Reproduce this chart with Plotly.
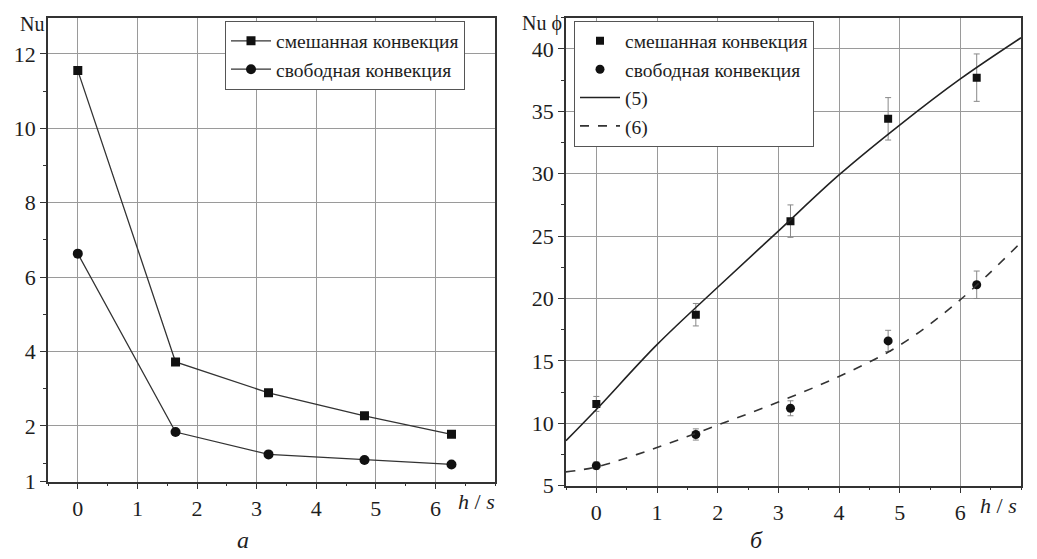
import plotly.graph_objects as go

# ---- data ----
hs = [0, 1.64, 3.2, 4.81, 6.27]
nu_mixed = [11.55, 3.72, 2.89, 2.27, 1.85]
nu_free = [6.63, 1.89, 1.49, 1.39, 1.31]

nuf_mixed = [11.55, 18.7, 26.2, 34.4, 37.7]
nuf_mixed_err = [0.6, 0.9, 1.3, 1.7, 1.9]
nuf_free = [6.6, 9.1, 11.2, 16.6, 21.1]
nuf_free_err = [0.3, 0.45, 0.6, 0.85, 1.1]

curve_x = [-0.5, 0, 1, 2, 3, 4, 5, 6, 7]
curve5 = [8.6, 11.1, 16.3, 20.9, 25.4, 29.9, 33.9, 37.6, 40.9]
curve6 = [6.1, 6.5, 8.05, 9.85, 11.7, 13.75, 16.25, 19.9, 24.5]

left_yticks = [1, 2, 4, 6, 8, 10, 12]
right_yticks = [5, 10, 15, 20, 25, 30, 35, 40]
xticks = [0, 1, 2, 3, 4, 5, 6]

label_mixed = "смешанная конвекция"
label_free = "свободная конвекция"


def warp(v):
    # the left axis is stretched by 1.5 below Nu = 2
    return v if v >= 2 else 2 - (2 - v) * 1.5


SERIF = "Liberation Serif, Times New Roman, serif"
INK = "#1e1e1e"
GRID = "#9a9a9a"

fig = go.Figure()

# left panel
fig.add_trace(go.Scatter(x=hs, y=[warp(v) for v in nu_mixed], mode="lines+markers",
                         name=label_mixed, legend="legend",
                         line=dict(color="#333", width=1.3),
                         marker=dict(symbol="square", size=9, color="#111"),
                         xaxis="x", yaxis="y"))
fig.add_trace(go.Scatter(x=hs, y=[warp(v) for v in nu_free], mode="lines+markers",
                         name=label_free, legend="legend",
                         line=dict(color="#333", width=1.3),
                         marker=dict(symbol="circle", size=10, color="#111"),
                         xaxis="x", yaxis="y"))

# right panel
fig.add_trace(go.Scatter(x=hs, y=nuf_mixed, mode="markers", name=label_mixed,
                         legend="legend2",
                         marker=dict(symbol="square", size=8, color="#111"),
                         error_y=dict(type="data", array=nuf_mixed_err, color="#888",
                                      thickness=1, width=3),
                         xaxis="x2", yaxis="y2"))
fig.add_trace(go.Scatter(x=hs, y=nuf_free, mode="markers", name=label_free,
                         legend="legend2",
                         marker=dict(symbol="circle", size=9, color="#111"),
                         error_y=dict(type="data", array=nuf_free_err, color="#888",
                                      thickness=1, width=3),
                         xaxis="x2", yaxis="y2"))
fig.add_trace(go.Scatter(x=curve_x, y=curve5, mode="lines", name="(5)", legend="legend2",
                         line=dict(color="#222", width=1.6, shape="spline"),
                         xaxis="x2", yaxis="y2"))
fig.add_trace(go.Scatter(x=curve_x, y=curve6, mode="lines", name="(6)", legend="legend2",
                         line=dict(color="#333", width=1.6, dash="dash", shape="spline"),
                         xaxis="x2", yaxis="y2"))

axis_common = dict(showline=True, linecolor="#333", linewidth=1.5, mirror=True,
                   showgrid=True, gridcolor=GRID, gridwidth=1, zeroline=False,
                   ticks="outside", ticklen=6, tickwidth=1.3, tickcolor="#333",
                   tickfont=dict(family=SERIF, size=22, color=INK))

xminor = dict(dtick=0.5, ticklen=3, tickwidth=1, tickcolor="#333", showgrid=False)

legend_common = dict(xanchor="left", yanchor="top", bgcolor="white",
                     bordercolor="#555", borderwidth=1,
                     font=dict(family=SERIF, size=19.5, color=INK), itemwidth=40,
                     tracegroupgap=0)

fig.update_layout(
    width=1037, height=559,
    margin=dict(l=0, r=0, t=0, b=0),
    paper_bgcolor="white", plot_bgcolor="white",
    showlegend=True,
    font=dict(family=SERIF, color=INK),
    xaxis=dict(axis_common, domain=[40 / 1037, 487 / 1037], range=[-0.5, 7.0],
               tickvals=xticks, minor=xminor, anchor="y"),
    yaxis=dict(axis_common, domain=[1 - 485 / 559, 1 - 10 / 559], range=[0.5, 12.97],
               tickvals=[warp(v) for v in left_yticks],
               ticktext=[str(v) for v in left_yticks],
               minor=dict(tickvals=[1.0, 3, 5, 7, 9, 11], ticklen=3, tickwidth=1,
                          tickcolor="#333", showgrid=False),
               anchor="x"),
    xaxis2=dict(axis_common, domain=[558 / 1037, 1013 / 1037], range=[-0.5, 7.0],
                tickvals=xticks, minor=xminor, anchor="y2"),
    yaxis2=dict(axis_common, domain=[1 - 489 / 559, 1 - 10 / 559], range=[5, 42.5],
                tickvals=right_yticks,
                minor=dict(dtick=2.5, tick0=0, ticklen=3, tickwidth=1,
                           tickcolor="#333", showgrid=False),
                anchor="x2"),
    legend=dict(legend_common, x=217 / 1037, y=1 - 13 / 559),
    legend2=dict(legend_common, x=566 / 1037, y=1 - 13 / 559),
    annotations=[
        dict(text="Nu", x=38 / 1037, y=1 - 16 / 559, xref="paper", yref="paper",
             xanchor="right", yanchor="middle", showarrow=False,
             font=dict(family=SERIF, size=20, color=INK)),
        dict(text="Nu ϕ", x=556 / 1037, y=1 - 16 / 559, xref="paper", yref="paper",
             xanchor="right", yanchor="middle", showarrow=False,
             font=dict(family=SERIF, size=20, color=INK)),
        dict(text="<i>h</i> / <i>s</i>", x=468 / 1037, y=1 - 505 / 559, xref="paper",
             yref="paper", xanchor="center", yanchor="middle", showarrow=False,
             font=dict(family=SERIF, size=22, color=INK)),
        dict(text="<i>h</i> / <i>s</i>", x=990 / 1037, y=1 - 509 / 559, xref="paper",
             yref="paper", xanchor="center", yanchor="middle", showarrow=False,
             font=dict(family=SERIF, size=22, color=INK)),
        dict(text="<i>a</i>", x=235 / 1037, y=1 - 545 / 559, xref="paper", yref="paper",
             xanchor="center", yanchor="middle", showarrow=False,
             font=dict(family=SERIF, size=24, color=INK)),
        dict(text="<i>б</i>", x=748 / 1037, y=1 - 545 / 559, xref="paper", yref="paper",
             xanchor="center", yanchor="middle", showarrow=False,
             font=dict(family=SERIF, size=24, color=INK)),
    ],
)

fig.write_html("out.html")
